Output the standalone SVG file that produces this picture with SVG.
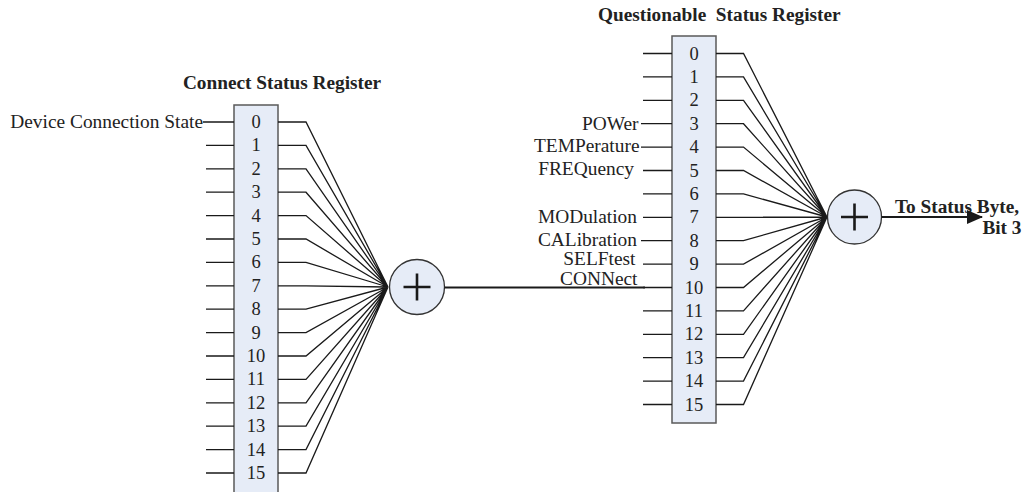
<svg xmlns="http://www.w3.org/2000/svg" width="1028" height="492" viewBox="0 0 1028 492">
<defs>
<style>
.box{fill:#e6ecf7;stroke:#5a5a5a;stroke-width:1.5}
.sum{fill:#e6ecf7;stroke:#333;stroke-width:1.3}
.plus{stroke:#1a1a1a;stroke-width:2.6;fill:none}
.ln{stroke:#1a1a1a;stroke-width:1.3;fill:none}
.thick{stroke:#1a1a1a;stroke-width:2.2;fill:none}
.num{font-family:"Liberation Serif","Times New Roman",serif;font-size:18.5px;fill:#222;text-anchor:middle}
.lbl{font-family:"Liberation Serif","Times New Roman",serif;font-size:19.4px;fill:#222;text-anchor:end}
.title{font-family:"Liberation Serif","Times New Roman",serif;font-size:19.3px;font-weight:bold;fill:#222}
</style>
<marker id="arr" markerWidth="16" markerHeight="14" refX="15" refY="7" orient="auto" markerUnits="userSpaceOnUse">
<path d="M0,0 L16,7 L0,14 Z" fill="#1a1a1a"/>
</marker>
</defs>

<g id="connect-register">
<text class="title" x="282" y="89" text-anchor="middle">Connect Status Register</text>
<rect class="box" x="234" y="105" width="44" height="395"/>
<text class="num" x="256" y="128">0</text>
<text class="num" x="256" y="151.4">1</text>
<text class="num" x="256" y="174.8">2</text>
<text class="num" x="256" y="198.2">3</text>
<text class="num" x="256" y="221.6">4</text>
<text class="num" x="256" y="245">5</text>
<text class="num" x="256" y="268.4">6</text>
<text class="num" x="256" y="291.8">7</text>
<text class="num" x="256" y="315.2">8</text>
<text class="num" x="256" y="338.6">9</text>
<text class="num" x="256" y="362">10</text>
<text class="num" x="256" y="385.4">11</text>
<text class="num" x="256" y="408.8">12</text>
<text class="num" x="256" y="432.2">13</text>
<text class="num" x="256" y="455.6">14</text>
<text class="num" x="256" y="479">15</text>
<text class="lbl" x="203" y="128">Device Connection State</text>
</g>

<g id="connect-sum">
<circle class="sum" cx="417" cy="287" r="27.5"/>
<path class="plus" d="M403.5,287 H430.5 M417,273.5 V300.5"/>
</g>

<g id="questionable-register">
<text class="title" x="598" y="21" style="white-space:pre" xml:space="preserve">Questionable  Status Register</text>
<rect class="box" x="672" y="36" width="44" height="387"/>
<text class="num" x="694" y="59.5">0</text>
<text class="num" x="694" y="82.9">1</text>
<text class="num" x="694" y="106.3">2</text>
<text class="num" x="694" y="129.7">3</text>
<text class="num" x="694" y="153.1">4</text>
<text class="num" x="694" y="176.5">5</text>
<text class="num" x="694" y="199.9">6</text>
<text class="num" x="694" y="223.3">7</text>
<text class="num" x="694" y="246.7">8</text>
<text class="num" x="694" y="270.1">9</text>
<text class="num" x="694" y="293.5">10</text>
<text class="num" x="694" y="316.9">11</text>
<text class="num" x="694" y="340.3">12</text>
<text class="num" x="694" y="363.7">13</text>
<text class="num" x="694" y="387.1">14</text>
<text class="num" x="694" y="410.5">15</text>
<text class="lbl" x="638.5" y="129.5">POWer</text>
<text class="lbl" x="639.5" y="151.5">TEMPerature</text>
<text class="lbl" x="634" y="174.5">FREQuency</text>
<text class="lbl" x="637" y="222.5">MODulation</text>
<text class="lbl" x="637" y="245.5">CALibration</text>
<text class="lbl" x="635.5" y="264.5">SELFtest</text>
<text class="lbl" x="637.5" y="284.5">CONNect</text>
</g>

<g id="questionable-sum">
<circle class="sum" cx="854.5" cy="217" r="27"/>
<path class="plus" d="M841,217 H868 M854.5,203.5 V230.5"/>
</g>

<g id="output-label">
<text class="title" x="895" y="212.5">To Status Byte,</text>
<text class="title" x="1021.5" y="234" text-anchor="end">Bit 3</text>
</g>

<g id="connectors">
<path class="ln" d="M203,122 H234 M206,145.4 H234 M206,168.8 H234 M206,192.2 H234 M206,215.6 H234 M206,239 H234 M206,262.4 H234 M206,285.8 H234 M206,309.2 H234 M206,332.6 H234 M206,356 H234 M206,379.4 H234 M206,402.8 H234 M206,426.2 H234 M206,449.6 H234 M206,473 H234"/>
<path class="ln" d="M278,122 H306 L388,287 M278,145.4 H306 L388,287 M278,168.8 H306 L388,287 M278,192.2 H306 L388,287 M278,215.6 H306 L388,287 M278,239 H306 L388,287 M278,262.4 H306 L388,287 M278,285.8 H306 L388,287 M278,309.2 H306 L388,287 M278,332.6 H306 L388,287 M278,356 H306 L388,287 M278,379.4 H306 L388,287 M278,402.8 H306 L388,287 M278,426.2 H306 L388,287 M278,449.6 H306 L388,287 M278,473 H306 L388,287"/>
<path class="thick" d="M444.5,287.5 H645"/>
<path class="ln" d="M643,53.5 H672 M643,76.9 H672 M643,100.3 H672 M641,123.7 H672 M641,147.1 H672 M643,170.5 H672 M643,193.9 H672 M643,217.3 H672 M641,240.7 H672 M643,264.1 H672 M643,287.5 H672 M643,310.9 H672 M643,334.3 H672 M643,357.7 H672 M643,381.1 H672 M643,404.5 H672"/>
<path class="ln" d="M716,53.5 H743.5 L827,217 M716,76.9 H743.5 L827,217 M716,100.3 H743.5 L827,217 M716,123.7 H743.5 L827,217 M716,147.1 H743.5 L827,217 M716,170.5 H743.5 L827,217 M716,193.9 H743.5 L827,217 M716,217.3 H743.5 L827,217 M716,240.7 H743.5 L827,217 M716,264.1 H743.5 L827,217 M716,287.5 H743.5 L827,217 M716,310.9 H743.5 L827,217 M716,334.3 H743.5 L827,217 M716,357.7 H743.5 L827,217 M716,381.1 H743.5 L827,217 M716,404.5 H743.5 L827,217"/>
<path class="thick" d="M881.5,217 H982" marker-end="url(#arr)"/>
</g>
</svg>
